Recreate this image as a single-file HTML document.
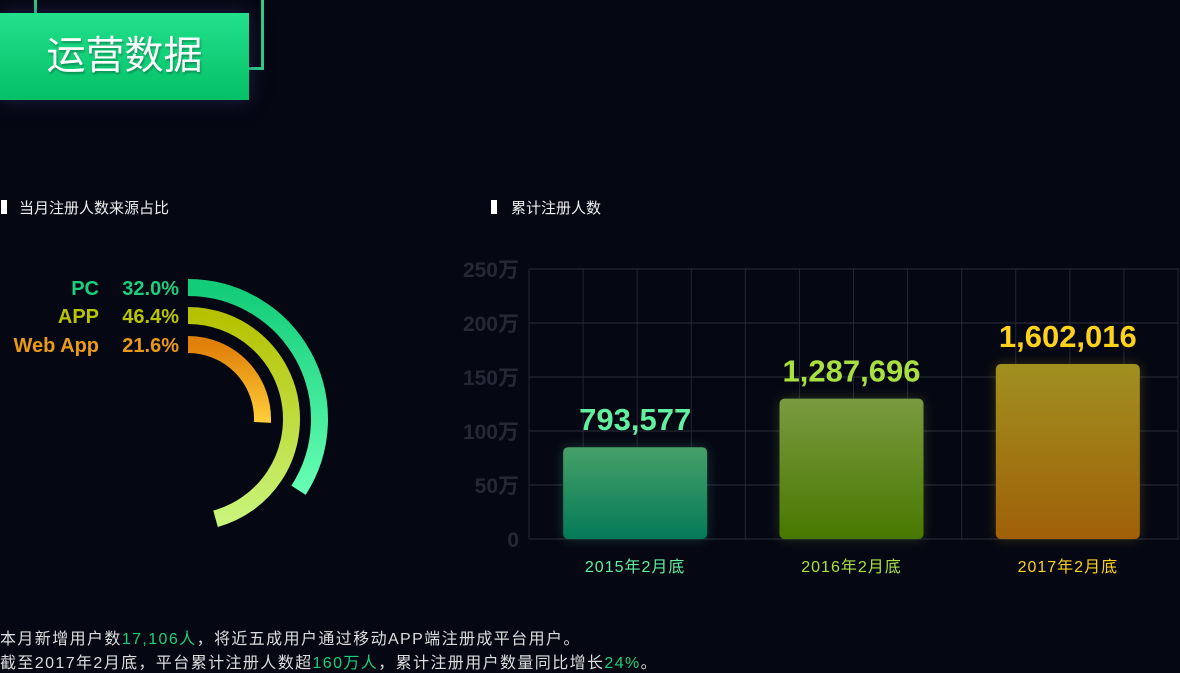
<!DOCTYPE html>
<html><head><meta charset="utf-8">
<style>
body{margin:0;width:1180px;height:668px;background:#050713;overflow:hidden;position:relative;font-family:"Liberation Sans","Noto Sans CJK SC",sans-serif;color:#e8e8e8}
.abs{position:absolute}
.sec{font-size:15px;color:#eee;top:197px}
.sec i{position:absolute;left:-18px;top:3px;width:6px;height:14px;background:#fff}
.foot{left:0;font-size:16px;color:#ddd;white-space:nowrap;letter-spacing:1.4px}
.foot b{font-weight:normal;color:#19d07a}
</style></head><body>
<div class="abs" style="left:34px;top:-3px;width:224px;height:67px;border:3px solid #2ecf86;"></div>
<div class="abs" style="left:0;top:13px;width:249px;height:87px;background:linear-gradient(#22e08c,#04c066);box-shadow:0 0 18px rgba(60,60,120,.5);color:#fff;font-size:39px;line-height:87px;text-align:center;text-shadow:1px 2px 2px rgba(0,0,0,.3)">运营数据</div>
<div class="abs sec" style="left:19px"><i></i>当月注册人数来源占比</div>
<div class="abs sec" style="left:511px"><i style="left:-20px"></i>累计注册人数</div>
<svg class="abs" style="left:0;top:0" width="1180" height="668">
<defs>
<linearGradient id="g0" x1="0" y1="0" x2="0" y2="1"><stop offset="0" stop-color="#12cc78"/><stop offset="1" stop-color="#66ffb4"/></linearGradient>
<linearGradient id="g1" x1="0" y1="0" x2="0" y2="1"><stop offset="0" stop-color="#b6c200"/><stop offset="1" stop-color="#c8f47c"/></linearGradient>
<linearGradient id="g2" x1="0" y1="0" x2="0" y2="1"><stop offset="0" stop-color="#e08008"/><stop offset="1" stop-color="#ffcf3a"/></linearGradient>
<linearGradient id="b0" x1="0" y1="0" x2="0" y2="1"><stop offset="0" stop-color="#46a068"/><stop offset="1" stop-color="#047a58"/></linearGradient>
<linearGradient id="b1" x1="0" y1="0" x2="0" y2="1"><stop offset="0" stop-color="#7a9a40"/><stop offset="1" stop-color="#487800"/></linearGradient>
<linearGradient id="b2" x1="0" y1="0" x2="0" y2="1"><stop offset="0" stop-color="#a09020"/><stop offset="1" stop-color="#a06008"/></linearGradient>
<filter id="glow" x="-30%" y="-30%" width="160%" height="160%"><feGaussianBlur stdDeviation="6"/></filter>
</defs>
<g id="donut"></g>
<g id="bars"></g>
</svg>
<div class="abs foot" style="top:625px">本月新增用户数<b>17,106人</b>，将近五成用户通过移动APP端注册成平台用户。</div>
<div class="abs foot" style="top:649px">截至2017年2月底，平台累计注册人数超<b>160万人</b>，累计注册用户数量同比增长<b>24%</b>。</div>
<script>
const sources=["PC","APP","Web App"];
const shares=[32.0,46.4,21.6];
const categories=["2015年2月底","2016年2月底","2017年2月底"];
const totals=[793577,1287696,1602016];
const barHeightsWan=[85,130,162];
const yTicks=[0,50,100,150,200,250];
const NS="http://www.w3.org/2000/svg";
function mk(t,a,p){const e=document.createElementNS(NS,t);for(const k in a)e.setAttribute(k,a[k]);p.appendChild(e);return e;}
const dg=document.getElementById('donut');
const cx=188,cy=419,outer=[140,112,83],th=17;
const colors=["#1ccf7c","#b9c400","#eb9a16"];
function ang(v){return 30+2.9*v;}
sources.forEach((s,i)=>{
 const r=outer[i]-th/2,a=ang(shares[i])*Math.PI/180;
 const x2=cx+r*Math.sin(a),y2=cy-r*Math.cos(a);
 const p=mk('path',{d:`M${cx} ${cy-r} A${r} ${r} 0 ${ang(shares[i])>180?1:0} 1 ${x2} ${y2}`,stroke:`url(#g${i})`,'stroke-width':th,fill:'none'},dg);
 
 
 const y=cy-outer[i]+16;
 const t1=mk('text',{x:99,y:y,'text-anchor':'end','font-size':20,'font-weight':'bold',fill:colors[i]},dg);t1.textContent=s;
 
 
 const t2=mk('text',{x:179,y:y,'text-anchor':'end','font-size':20,'font-weight':'bold',fill:colors[i]},dg);t2.textContent=shares[i].toFixed(1)+'%';
 
 
});
const bg=document.getElementById('bars');
const X0=529,X1=1178,Y0=539,Ytop=269,maxV=250;
function ys(v){return Y0-(v/maxV)*(Y0-Ytop);}
const bw=(X1-X0)/categories.length;
for(let k=0;k<=12;k++){const x=X0+k*(X1-X0)/12;mk('line',{x1:x,x2:x,y1:Ytop,y2:Y0,stroke:'#232634','stroke-width':1},bg);}
yTicks.forEach(v=>{
 const y=ys(v);
 const l=mk('line',{x1:X0,x2:X1,y1:y,y2:y,stroke:'#2a2d3a','stroke-width':1},bg);
 
 
 const t=mk('text',{x:519,y:y+8,'text-anchor':'end','font-size':21,'font-weight':'bold',fill:'#262935'},bg);t.textContent=v===0?'0':v+'万';
 
 
});
const tc=["#62f0a0","#a8e040","#ffd21a"];
categories.forEach((c,i)=>{
 const cxb=X0+bw*(i+0.5)-2,w=144,y=ys(barHeightsWan[i]);
 mk('rect',{x:cxb-w/2,y:y,width:w,height:Y0-y,rx:5,fill:tc[i],opacity:.2,filter:'url(#glow)'},bg);
 const r=mk('rect',{x:cxb-w/2,y:y,width:w,height:Y0-y,rx:5,fill:`url(#b${i})`},bg);
 
 
 const t=mk('text',{x:cxb,y:y-17,'text-anchor':'middle','font-size':31,'font-weight':'bold',fill:tc[i]},bg);t.textContent=totals[i].toLocaleString('en-US');
 
 
 const xl=mk('text',{x:cxb,y:572,'text-anchor':'middle','font-size':16,'letter-spacing':'1',fill:tc[i]},bg);xl.textContent=c;
 
 
});
</script>
</body></html>
